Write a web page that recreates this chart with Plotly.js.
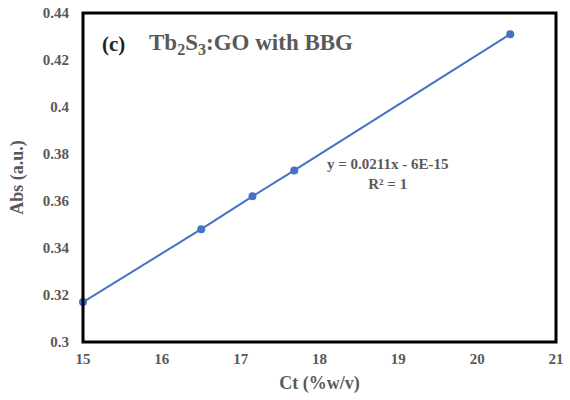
<!DOCTYPE html>
<html>
<head>
<meta charset="utf-8">
<script src="https://cdn.plot.ly/plotly-3.0.1.min.js"></script>
<style>html,body{margin:0;padding:0;background:#fff;}#chart{width:570px;height:400px;}</style>
</head>
<body>
<div id="chart"></div>
<script>
var concentration = [15, 16.5, 17.15, 17.68, 20.42];
var absorbance = [0.317, 0.348, 0.362, 0.373, 0.431];
var xTicks = [15, 16, 17, 18, 19, 20, 21];
var yTicks = [0.3, 0.32, 0.34, 0.36, 0.38, 0.4, 0.42, 0.44];
var yTickLabels = ['0.3', '0.32', '0.34', '0.36', '0.38', '0.4', '0.42', '0.44'];

var grey = '#595959';
var serif = '"Liberation Serif", "Times New Roman", serif';

var trace = {
  x: concentration,
  y: absorbance,
  mode: 'lines+markers',
  type: 'scatter',
  line: {color: '#4472C4', width: 2},
  marker: {color: '#4472C4', size: 8},
  showlegend: false,
  hoverinfo: 'x+y',
  cliponaxis: false
};

var layout = {
  width: 570,
  height: 400,
  margin: {l: 83, r: 14, t: 13, b: 58},
  paper_bgcolor: '#fff',
  plot_bgcolor: '#fff',
  xaxis: {
    range: [15, 21],
    tickvals: xTicks,
    ticktext: xTicks.map(String),
    showgrid: false,
    zeroline: false,
    showline: false,
    ticks: '',
    ticklabelstandoff: 6,
    tickfont: {family: serif, size: 15, color: grey, weight: 'bold'},
    title: {text: 'Ct (%w/v)', font: {family: serif, size: 18, color: grey, weight: 'bold'}, standoff: 10}
  },
  yaxis: {
    range: [0.3, 0.44],
    tickvals: yTicks,
    ticktext: yTickLabels,
    showgrid: false,
    zeroline: false,
    showline: false,
    ticks: '',
    ticklabelstandoff: 13,
    tickfont: {family: serif, size: 15, color: grey, weight: 'bold'},
    title: {text: 'Abs (a.u.)', font: {family: serif, size: 18, color: grey, weight: 'bold'}, standoff: 14}
  },
  shapes: [
    {type: 'rect', xref: 'paper', yref: 'paper', x0: 0, x1: 1, y0: 0, y1: 1,
     line: {color: '#000', width: 3}}
  ],
  annotations: [
    {xref: 'paper', yref: 'paper', x: 0.035, y: 0.905, xanchor: 'left', yanchor: 'middle',
     text: '(c)', showarrow: false,
     font: {family: serif, size: 21, color: '#222', weight: 'bold'}},
    {xref: 'paper', yref: 'paper', x: 0.135, y: 0.905, xanchor: 'left', yanchor: 'middle',
     text: 'Tb<sub>2</sub>S<sub>3</sub>:GO with BBG', showarrow: false,
     font: {family: serif, size: 23, color: grey, weight: 'bold'}},
    {xref: 'paper', yref: 'paper', x: 0.643, y: 0.51, xanchor: 'center', yanchor: 'middle',
     text: 'y = 0.0211x - 6E-15<br>R² = 1', showarrow: false, align: 'center',
     font: {family: serif, size: 15, color: grey, weight: 'bold'}}
  ]
};

Plotly.newPlot('chart', [trace], layout, {displayModeBar: false, staticPlot: true});
</script>
</body>
</html>
